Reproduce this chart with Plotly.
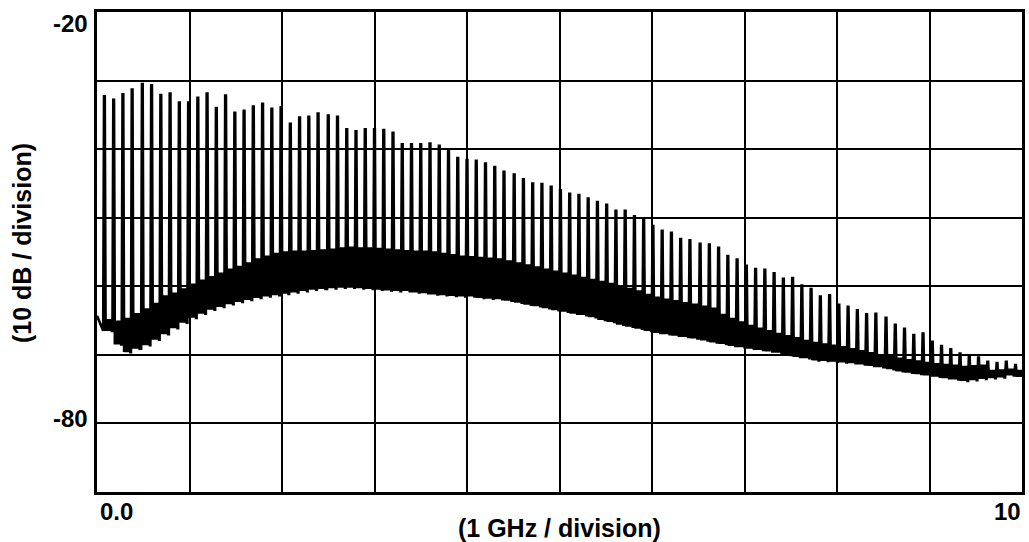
import plotly.graph_objects as go

# ---- data (GHz / dBm) ----
spike_ghz = [0.08, 0.18, 0.28, 0.38, 0.49, 0.59, 0.69, 0.79, 0.89, 0.99,
             1.09, 1.19, 1.29, 1.39, 1.49, 1.59, 1.69, 1.79, 1.89, 1.99,
             2.09, 2.19, 2.29, 2.39, 2.50, 2.60, 2.70, 2.80, 2.90, 3.00,
             3.10, 3.20, 3.30, 3.40, 3.50, 3.60, 3.70, 3.80, 3.90, 4.00,
             4.10, 4.20, 4.30, 4.40, 4.51, 4.61, 4.71, 4.81, 4.91, 5.01,
             5.11, 5.21, 5.31, 5.41, 5.51, 5.61, 5.71, 5.81, 5.91, 6.01,
             6.11, 6.21, 6.31, 6.41, 6.52, 6.62, 6.72, 6.82, 6.92, 7.02,
             7.12, 7.22, 7.32, 7.42, 7.52, 7.62, 7.72, 7.82, 7.92, 8.02,
             8.12, 8.22, 8.32, 8.42, 8.53, 8.63, 8.73, 8.83, 8.93, 9.03,
             9.13, 9.23, 9.33, 9.43, 9.53, 9.63, 9.73, 9.83, 9.93]

spike_peak_db = [-32.3, -32.8, -32.0, -31.3, -30.5, -30.7, -32.1, -31.9, -33.2, -33.2,
                 -32.5, -31.9, -34.0, -32.2, -34.7, -34.4, -33.8, -33.4, -34.1, -33.9,
                 -36.3, -35.4, -35.3, -34.8, -35.1, -35.3, -37.1, -37.4, -37.1, -37.1,
                 -37.2, -37.6, -39.3, -39.3, -39.3, -39.2, -39.5, -40.1, -41.3, -41.6,
                 -41.7, -42.1, -42.6, -43.3, -43.7, -44.4, -45.0, -45.1, -45.5, -46.0,
                 -46.5, -46.7, -47.2, -47.7, -48.1, -49.0, -49.0, -49.8, -50.1, -51.2,
                 -51.9, -52.2, -53.1, -53.3, -53.8, -53.9, -54.4, -55.6, -56.1, -57.0,
                 -57.5, -57.6, -58.1, -58.9, -58.8, -59.9, -60.4, -61.5, -61.3, -62.7,
                 -63.0, -63.5, -64.1, -64.0, -64.6, -65.6, -66.2, -67.1, -66.9, -68.1,
                 -68.7, -69.2, -69.8, -70.1, -70.4, -71.0, -71.2, -71.0, -71.5]

noise_low_db = [-66.5, -68.5, -69.6, -69.1, -68.6, -67.8, -67.0, -66.1, -65.3, -64.6,
                -64.0, -63.4, -63.0, -62.6, -62.3, -62.0, -61.7, -61.5, -61.3, -61.1,
                -60.9, -60.7, -60.5, -60.4, -60.3, -60.2, -60.2, -60.3, -60.4, -60.5,
                -60.6, -60.7, -60.7, -60.9, -61.0, -61.2, -61.3, -61.4, -61.5, -61.5,
                -61.7, -61.8, -61.9, -62.1, -62.4, -62.7, -62.9, -63.2, -63.5, -63.7,
                -64.0, -64.2, -64.5, -64.9, -65.2, -65.6, -65.9, -66.2, -66.5, -66.8,
                -67.0, -67.2, -67.4, -67.6, -67.9, -68.2, -68.4, -68.7, -68.9, -69.1,
                -69.3, -69.5, -69.7, -70.0, -70.3, -70.5, -70.8, -70.9, -71.0, -71.1,
                -71.2, -71.4, -71.6, -71.8, -72.1, -72.4, -72.6, -72.8, -73.0, -73.2,
                -73.4, -73.6, -73.8, -73.7, -73.5, -73.4, -73.3, -73.0, -73.2]

noise_high_db = [-64.8, -65.0, -64.6, -63.9, -63.2, -62.4, -61.3, -60.9, -60.3, -59.6,
                 -59.0, -58.5, -58.0, -57.4, -57.0, -56.5, -55.9, -55.5, -55.1, -54.9,
                 -54.8, -54.8, -54.7, -54.6, -54.5, -54.3, -54.2, -54.3, -54.3, -54.4,
                 -54.5, -54.6, -54.7, -54.8, -54.8, -54.9, -55.1, -55.3, -55.5, -55.6,
                 -55.7, -55.8, -55.9, -56.2, -56.5, -56.8, -57.1, -57.4, -57.7, -58.0,
                 -58.3, -58.6, -58.9, -59.2, -59.5, -59.9, -60.2, -60.6, -61.1, -61.5,
                 -61.8, -62.0, -62.3, -62.5, -62.8, -63.1, -64.0, -64.6, -65.1, -65.6,
                 -66.0, -66.4, -66.8, -67.1, -67.4, -67.8, -68.1, -68.3, -68.5, -68.7,
                 -69.0, -69.3, -69.6, -69.9, -70.1, -70.4, -70.6, -70.8, -71.0, -71.2,
                 -71.3, -71.4, -71.6, -71.5, -71.4, -72.2, -72.1, -72.0, -72.2]

trace_start_db = -64.3
trace_end_db = -72.6

x_tick_labels = ["0.0", "10"]
y_tick_labels = ["-20", "-80"]
x_title = "(1 GHz / division)"
y_title = "(10 dB / division)"

# ---- build the analyzer trace: each comb line, then the noise between lines ----
NOISE_STEPS = 9
STEP = 0.0085
LEAD = 0.013
TOP = 0.004
xs, ys = [0.0], [trace_start_db]
prev_low = noise_low_db[0]
for f, pk, lo, hi in zip(spike_ghz, spike_peak_db, noise_low_db, noise_high_db):
    xs += [f - LEAD, f - TOP, f + TOP]
    ys += [prev_low, pk, pk]
    for k in range(NOISE_STEPS):
        xs.append(f + LEAD + STEP * k)
        ys.append(lo if k % 2 == 0 else hi)
    prev_low = lo
xs.append(10.0)
ys.append(trace_end_db)

TICK_FONT = dict(family="Liberation Sans, Arial, sans-serif", size=24, color="black", weight="bold")
TITLE_FONT = dict(family="Liberation Sans, Arial, sans-serif", size=25, color="black", weight="bold")

fig = go.Figure(go.Scatter(x=xs, y=ys, mode="lines",
                           line=dict(color="black", width=2.6, simplify=False),
                           hoverinfo="skip"))

axis_common = dict(showgrid=True, gridcolor="black", gridwidth=2, zeroline=False,
                   showline=True, linecolor="black", linewidth=3, mirror=True,
                   showticklabels=False, ticks="")
fig.update_xaxes(range=[0, 10], dtick=1, **axis_common)
fig.update_yaxes(range=[-90, -20], dtick=10, **axis_common)

ann = [
    dict(x=0, y=0, xref="x", yref="paper", text=x_tick_labels[0], showarrow=False,
         xanchor="left", yanchor="top", xshift=1, yshift=-4, font=TICK_FONT),
    dict(x=10, y=0, xref="x", yref="paper", text=x_tick_labels[1], showarrow=False,
         xanchor="right", yanchor="top", xshift=1, yshift=-4, font=TICK_FONT),
    dict(x=0, y=-20, xref="paper", yref="y", text=y_tick_labels[0], showarrow=False,
         xanchor="right", yanchor="top", xshift=-7, yshift=4, font=TICK_FONT),
    dict(x=0, y=-80, xref="paper", yref="y", text=y_tick_labels[1], showarrow=False,
         xanchor="right", yanchor="middle", xshift=-7, yshift=5, font=TICK_FONT),
    dict(x=0.5, y=0, xref="paper", yref="paper", text=x_title, showarrow=False,
         xanchor="center", yanchor="middle", yshift=-36, font=TITLE_FONT),
    dict(x=0, y=0.5, xref="paper", yref="paper", text=y_title, showarrow=False,
         textangle=-90, xanchor="center", yanchor="middle", xshift=-75, yshift=9,
         font=TITLE_FONT),
]

fig.update_layout(width=1029, height=542, margin=dict(l=97, r=4, t=12, b=50),
                  paper_bgcolor="white", plot_bgcolor="white", showlegend=False,
                  annotations=ann)

fig.write_html("out.html", config={"displayModeBar": False},
               post_script="document.body.style.margin='0';document.body.style.overflow='hidden';")
